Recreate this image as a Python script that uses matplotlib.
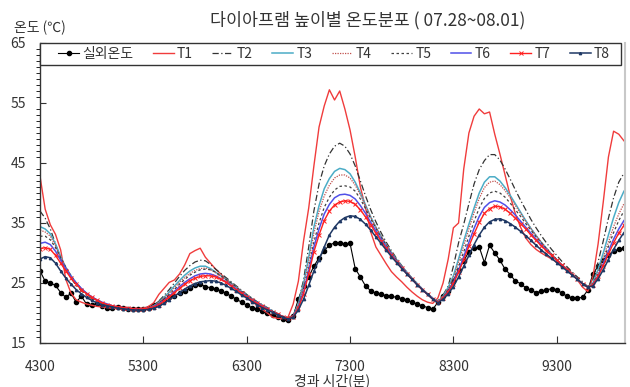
import numpy as np
import matplotlib
matplotlib.use("Agg")
import matplotlib.pyplot as plt
from matplotlib.patches import Rectangle
from matplotlib.ticker import MultipleLocator

plt.rcParams["font.family"] = ["Noto Sans CJK KR", "DejaVu Sans"]

# elapsed minutes, logged every 50 min
minutes = np.arange(4300, 10000, 50)

outdoor = [
    27.0, 25.3, 25.0, 24.6, 23.4, 22.6, 23.3, 21.8, 22.8, 21.5, 21.3, 21.6, 21.1, 20.9, 20.8, 21.0, 20.9, 20.7, 20.6, 20.6,
    20.6, 20.9, 21.4, 21.7, 22.2, 22.6, 22.9, 23.3, 23.6, 24.2, 24.7, 24.8, 24.4, 24.2, 24.0, 23.7, 23.3, 22.8, 22.3, 21.8,
    21.3, 20.9, 20.6, 20.3, 20.0, 19.6, 19.3, 19.0, 18.8,
    19.5, 22.3, 24.5, 26.0, 27.8, 29.2, 30.4, 31.3, 31.7, 31.6, 31.5, 31.6, 27.4, 26.0, 24.5, 23.7, 23.3, 23.1, 22.9, 22.8,
    22.6, 22.4, 22.1, 21.8, 21.5, 21.2, 20.9, 20.6,
    21.8, 22.8, 23.6, 25.3, 27.2, 28.7, 30.2, 30.8, 31.0, 28.4, 31.3, 30.0, 28.8, 27.3, 26.4, 25.3, 24.9, 24.2, 23.8, 23.4,
    23.6, 23.9, 24.0, 23.9, 23.3, 22.8, 22.5, 22.5, 22.6, 23.8,
    26.5, 27.8, 28.8, 29.7, 30.3, 30.6, 30.8,
]
t1 = [
    42.8, 37.3, 34.7, 33.1, 30.5, 25.6, 23.3, 22.2, 21.8, 21.5, 21.3, 21.1, 21.0, 20.9, 20.8, 20.7, 20.6, 20.5, 20.5, 20.6,
    20.8, 21.1, 21.7, 23.1, 24.1, 25.1, 25.5, 26.5, 28.0, 29.9, 30.4, 30.8, 29.3, 28.3, 27.3, 26.5, 25.6, 24.6, 23.9, 23.2,
    22.5, 21.9, 21.3, 20.6, 20.0, 19.3, 19.1, 19.1, 19.3,
    21.5, 25.3, 32.0, 37.5, 44.5, 51.0, 54.5, 57.2, 55.5, 57.0, 54.0, 50.5, 46.0, 41.0, 37.5, 33.5, 31.0, 29.6, 28.2, 26.9,
    26.0, 25.2, 24.3, 23.5, 22.8, 22.2, 21.8, 21.6,
    22.5, 25.0, 29.0, 34.2, 35.0, 44.0, 50.0, 52.8, 54.0, 53.2, 53.5, 49.8, 46.5, 43.0, 39.5, 36.5, 34.3, 32.5, 31.4, 30.6,
    30.0, 29.5, 29.0, 28.5, 28.0, 27.4, 26.6, 25.5, 24.3, 23.6,
    26.0, 31.5, 38.5, 46.0, 50.3, 49.8, 48.7,
]
t2 = [
    37.0, 35.8, 34.0, 31.5, 29.0, 27.2, 25.8, 24.6, 23.7, 23.0, 22.4, 22.0, 21.6, 21.3, 21.1, 20.9, 20.8, 20.7, 20.6, 20.6,
    20.7, 20.9, 21.3, 22.0, 22.9, 23.9, 25.0, 26.1, 27.1, 27.9, 28.5, 28.8, 28.7, 28.1, 27.3, 26.6, 25.9, 25.2, 24.5, 23.8,
    23.1, 22.5, 21.9, 21.4, 20.9, 20.4, 19.9, 19.5, 19.2,
    19.6, 21.8, 25.5, 31.0, 37.0, 41.5, 44.5, 46.5, 47.8, 48.3, 47.8, 46.5, 44.5, 42.0, 39.5, 37.2, 35.2, 33.4, 31.8, 30.4,
    29.1, 27.9, 26.8, 25.8, 24.8, 23.9, 23.1, 22.4,
    22.0, 23.0, 24.5, 27.8, 31.7, 34.8, 38.2, 41.5, 43.9, 45.4, 46.4, 46.4, 45.5, 44.0, 42.3, 40.5, 38.8, 37.2, 35.6, 34.2,
    32.9, 31.7, 30.6, 29.6, 28.6, 27.7, 26.8, 26.0, 25.2, 24.4,
    25.5, 28.5, 32.0, 35.8, 39.2, 41.8, 43.3,
]
t3 = [
    34.4, 34.0, 33.2, 31.5, 29.4, 27.6, 26.2, 25.0, 24.0, 23.3, 22.6, 22.1, 21.7, 21.4, 21.2, 21.0, 20.9, 20.8, 20.7, 20.6,
    20.7, 20.8, 21.2, 21.8, 22.6, 23.5, 24.5, 25.4, 26.3, 27.0, 27.5, 27.8, 27.8, 27.4, 26.8, 26.2, 25.6, 25.0, 24.3, 23.6,
    23.0, 22.4, 21.8, 21.3, 20.8, 20.3, 19.8, 19.4, 19.1,
    19.5, 21.5, 24.9, 29.3, 34.3, 37.9, 40.7, 42.4, 43.6, 44.1, 43.9, 43.2, 41.8, 40.0, 38.0, 36.0, 34.3, 32.8, 31.4, 30.1,
    28.9, 27.8, 26.8, 25.8, 24.9, 24.0, 23.2, 22.5,
    21.9, 22.8, 24.3, 26.2, 29.0, 32.0, 34.8, 37.5, 40.0, 41.8, 42.7, 42.7, 42.0, 40.9, 39.6, 38.2, 36.8, 35.4, 34.1, 32.9,
    31.8, 30.8, 29.8, 28.9, 28.0, 27.2, 26.4, 25.6, 24.9, 24.3,
    25.0, 27.3, 30.0, 33.0, 35.9, 38.4, 40.3,
]
t4 = [
    33.8, 33.5, 32.8, 31.2, 29.3, 27.6, 26.2, 25.0, 24.0, 23.3, 22.6, 22.1, 21.7, 21.4, 21.2, 21.0, 20.9, 20.8, 20.7, 20.6,
    20.7, 20.8, 21.2, 21.8, 22.5, 23.3, 24.2, 25.1, 25.9, 26.6, 27.1, 27.4, 27.5, 27.2, 26.7, 26.1, 25.5, 24.9, 24.3, 23.6,
    23.0, 22.4, 21.8, 21.3, 20.8, 20.3, 19.8, 19.4, 19.1,
    19.5, 21.3, 24.5, 28.5, 33.3, 36.9, 39.5, 41.3, 42.5, 43.0, 43.0, 42.5, 41.3, 39.7, 37.9, 36.0, 34.3, 32.8, 31.4, 30.1,
    28.9, 27.8, 26.8, 25.8, 24.9, 24.0, 23.2, 22.5,
    21.9, 22.7, 24.0, 25.8, 28.4, 31.2, 34.0, 36.7, 39.1, 40.9, 41.8, 42.0, 41.4, 40.4, 39.2, 37.9, 36.6, 35.3, 34.1, 32.9,
    31.8, 30.8, 29.8, 28.9, 28.0, 27.2, 26.4, 25.6, 24.9, 24.3,
    24.9, 26.8, 29.2, 31.8, 34.4, 36.5, 38.2,
]
t5 = [
    32.8, 32.8, 32.2, 30.9, 29.2, 27.6, 26.2, 25.0, 24.1, 23.3, 22.7, 22.2, 21.8, 21.4, 21.2, 21.0, 20.9, 20.8, 20.7, 20.6,
    20.7, 20.8, 21.1, 21.6, 22.3, 23.1, 23.9, 24.8, 25.6, 26.3, 26.8, 27.2, 27.3, 27.2, 26.8, 26.2, 25.6, 25.0, 24.3, 23.6,
    23.0, 22.4, 21.8, 21.3, 20.8, 20.3, 19.8, 19.4, 19.1,
    19.4, 21.0, 23.8, 27.5, 31.8, 35.0, 37.6, 39.3, 40.5, 41.1, 41.2, 41.0, 40.3, 39.0, 37.4, 35.7, 34.1, 32.6, 31.3, 30.0,
    28.8, 27.7, 26.7, 25.7, 24.8, 23.9, 23.1, 22.4,
    21.8, 22.6, 23.8, 25.4, 27.7, 30.2, 32.8, 35.3, 37.5, 39.1, 40.0, 40.3, 40.0, 39.3, 38.3, 37.2, 36.1, 34.9, 33.8, 32.7,
    31.7, 30.7, 29.8, 28.9, 28.0, 27.2, 26.4, 25.6, 24.9, 24.3,
    24.8, 26.5, 28.7, 31.1, 33.4, 35.4, 37.0,
]
t6 = [
    31.6, 31.8, 31.4, 30.3, 28.8, 27.4, 26.1, 25.0, 24.1, 23.3, 22.7, 22.2, 21.8, 21.5, 21.2, 21.0, 20.9, 20.8, 20.7, 20.6,
    20.7, 20.8, 21.1, 21.5, 22.1, 22.8, 23.6, 24.4, 25.1, 25.7, 26.2, 26.5, 26.6, 26.5, 26.2, 25.7, 25.2, 24.6, 24.0, 23.4,
    22.8, 22.2, 21.7, 21.2, 20.7, 20.2, 19.8, 19.4, 19.1,
    19.4, 20.9, 23.5, 27.0, 31.0, 34.0, 36.5, 38.1, 39.2, 39.7, 39.8, 39.6, 39.0, 37.9, 36.6, 35.1, 33.7, 32.3, 31.0, 29.8,
    28.6, 27.6, 26.6, 25.6, 24.7, 23.9, 23.1, 22.4,
    21.8, 22.5, 23.6, 25.1, 27.1, 29.4, 31.8, 34.1, 36.1, 37.6, 38.4, 38.7, 38.5, 38.0, 37.2, 36.3, 35.3, 34.3, 33.3, 32.3,
    31.4, 30.5, 29.6, 28.8, 28.0, 27.2, 26.4, 25.6, 24.9, 24.3,
    24.7, 26.2, 28.2, 30.3, 32.3, 34.0, 35.4,
]
t7 = [
    30.7, 30.9, 30.6, 29.6, 28.3, 27.0, 25.8, 24.8, 23.9, 23.2, 22.6, 22.1, 21.7, 21.4, 21.2, 21.0, 20.9, 20.8, 20.7, 20.6,
    20.7, 20.8, 21.0, 21.4, 22.0, 22.7, 23.4, 24.1, 24.8, 25.4, 25.8, 26.1, 26.2, 26.2, 26.0, 25.6, 25.1, 24.5, 23.9, 23.3,
    22.7, 22.1, 21.6, 21.1, 20.6, 20.2, 19.8, 19.4, 19.1,
    19.4, 20.8, 23.2, 26.5, 30.2, 33.0, 35.4, 37.0, 38.0, 38.5, 38.7, 38.6, 38.1, 37.2, 36.0, 34.7, 33.3, 32.0, 30.8, 29.6,
    28.5, 27.5, 26.5, 25.6, 24.7, 23.9, 23.1, 22.3,
    21.8, 22.5, 23.5, 24.9, 26.8, 28.9, 31.1, 33.2, 35.1, 36.6, 37.4, 37.8, 37.7, 37.3, 36.6, 35.8, 34.9, 34.0, 33.0, 32.1,
    31.2, 30.4, 29.6, 28.8, 28.0, 27.2, 26.4, 25.6, 24.9, 24.3,
    24.7, 26.1, 27.9, 29.8, 31.7, 33.3, 34.6,
]
t8 = [
    29.0, 29.4, 29.2, 28.3, 27.0, 25.8, 24.8, 23.9, 23.2, 22.6, 22.1, 21.7, 21.4, 21.2, 21.0, 20.8, 20.7, 20.6, 20.5, 20.5,
    20.5, 20.6, 20.8, 21.1, 21.6, 22.2, 22.8, 23.4, 24.0, 24.5, 24.9, 25.2, 25.3, 25.4, 25.3, 25.0, 24.6, 24.1, 23.6, 23.0,
    22.5, 21.9, 21.4, 20.9, 20.5, 20.1, 19.7, 19.3, 19.0,
    19.3, 20.5, 22.3, 24.6, 27.0, 28.9, 31.0, 33.0, 34.3, 35.3, 35.9, 36.2, 36.1, 35.6, 34.8, 33.8, 32.7, 31.6, 30.5, 29.4,
    28.4, 27.4, 26.5, 25.6, 24.7, 23.9, 23.1, 22.3,
    21.7, 22.3, 23.2, 24.4, 26.0, 27.8, 29.6, 31.4, 33.0, 34.3, 35.2, 35.6, 35.7, 35.4, 34.9, 34.3, 33.6, 32.9, 32.1, 31.3,
    30.5, 29.8, 29.1, 28.4, 27.7, 27.0, 26.3, 25.6, 24.9, 24.3,
    24.5, 25.7, 27.2, 28.9, 30.6, 32.1, 33.4,
]

labels = ["실외온도", "T1", "T2", "T3", "T4", "T5", "T6", "T7", "T8"]
x_ticks = [4300, 5300, 6300, 7300, 8300, 9300]

styles = [
    dict(color="black", lw=0.8, marker="o", ms=3.0, mec="black", mfc="black"),
    dict(color="#F03C3C", lw=1.0),
    dict(color="#333333", lw=0.9, ls=(0, (5, 2, 1, 2))),
    dict(color="#4BACC6", lw=1.1),
    dict(color="#C0504D", lw=0.9, ls=(0, (1, 1))),
    dict(color="#404040", lw=0.9, ls=(0, (2, 2))),
    dict(color="#5050E8", lw=1.1),
    dict(color="#FF2020", lw=1.0, marker="x", ms=2.8, mew=0.7),
    dict(color="#1F3864", lw=1.1, marker="^", ms=1.7),
]

fig = plt.figure(figsize=(6.3, 3.87), dpi=100)
ax = fig.add_axes([0.0635, 0.1137, 0.9285, 0.7752])

handles = []
for series, label, st in zip([outdoor, t1, t2, t3, t4, t5, t6, t7, t8], labels, styles):
    (h,) = ax.plot(minutes, series, label=label, **st)
    handles.append(h)

ax.set_xlim(4300, 9960)
ax.set_ylim(15, 65)
ax.set_xticks(x_ticks)
ax.set_yticks(range(15, 66, 10))
ax.yaxis.set_minor_locator(MultipleLocator(1))
ax.tick_params(axis="both", direction="in", labelsize=10, colors="#333333")
ax.tick_params(axis="x", length=5, pad=12)
ax.tick_params(axis="y", which="major", length=4, pad=10)
ax.tick_params(axis="y", which="minor", length=3)

for side in ("left", "bottom"):
    ax.spines[side].set_color("#333333")
    ax.spines[side].set_linewidth(1.0)
ax.spines["top"].set_visible(False)
ax.spines["right"].set_color("#C8C8C8")
ax.spines["right"].set_linewidth(1.5)

# legend strip across the top of the plot
ax.add_patch(Rectangle((0, 0.9267), 0.993, 0.0733, transform=ax.transAxes,
                       fill=False, edgecolor="#333333", lw=1.0, zorder=5, clip_on=False))
ax.add_patch(Rectangle((0, 0.9267), 0.993, 0.0733, transform=ax.transAxes,
                       facecolor="white", edgecolor="none", zorder=4, clip_on=False))
leg = ax.legend(handles=handles, loc="center left", ncol=9, mode="expand",
                bbox_to_anchor=(0.031, 0.9633, 0.9436, 0.0), frameon=False,
                fontsize=10, handlelength=1.5, handletextpad=0.25,
                borderpad=0, borderaxespad=0)
leg.set_zorder(6)
for txt in leg.get_texts():
    txt.set_color("#333333")

fig.text(368 / 630, 1 - 20 / 387, "다이아프램 높이별 온도분포 ( 07.28~08.01)",
         ha="center", va="center", fontsize=12.5, color="#333333")
fig.text(14 / 630, 1 - 28 / 387, "온도 (℃)", ha="left", va="center",
         fontsize=10, color="#333333")
ax.set_xlabel("경과 시간(분)", fontsize=10, color="#333333", labelpad=0)

fig.savefig("out.png", dpi=100)
